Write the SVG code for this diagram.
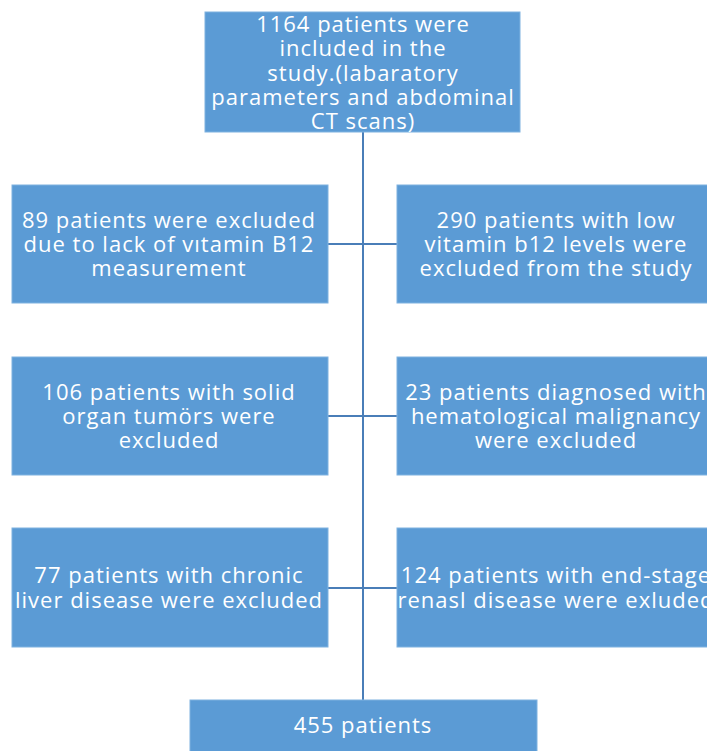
<svg xmlns="http://www.w3.org/2000/svg" width="707" height="751" viewBox="0 0 707 751">
<style>
.box{fill:#5B9BD5;stroke:#7FB2E0;stroke-width:1}
.t{font-family:"Open Sans","Liberation Sans",sans-serif;font-size:22px;letter-spacing:1px;fill:#ffffff;text-anchor:middle}
.c{stroke:#4A7EB8;stroke-width:2;fill:none}
</style>
<rect width="707" height="751" fill="#ffffff"/>
<g id="connectors">
<line class="c" x1="363" y1="132" x2="363" y2="700"/>
<line class="c" x1="328" y1="244" x2="397" y2="244"/>
<line class="c" x1="328" y1="416" x2="397" y2="416"/>
<line class="c" x1="328" y1="588" x2="397" y2="588"/>
</g>
<g id="n0">
<rect class="box" x="205" y="12" width="315" height="120"/>
<text class="t" x="363" y="32">1164 patients were</text>
<text class="t" x="363" y="56">included in the</text>
<text class="t" x="363" y="81">study.(labaratory</text>
<text class="t" x="363" y="105">parameters and abdominal</text>
<text class="t" x="363" y="129">CT scans)</text>
</g>
<g id="n1">
<rect class="box" x="12" y="185" width="316" height="118"/>
<text class="t" x="169" y="228">89 patients were excluded</text>
<text class="t" x="169" y="252">due to lack of vıtamin B12</text>
<text class="t" x="169" y="276">measurement</text>
</g>
<g id="n2">
<rect class="box" x="397" y="185" width="317" height="118"/>
<text class="t" x="556" y="228">290 patients with low</text>
<text class="t" x="556" y="252">vitamin b12 levels were</text>
<text class="t" x="556" y="276">excluded from the study</text>
</g>
<g id="n3">
<rect class="box" x="12" y="357" width="316" height="118"/>
<text class="t" x="169" y="400">106 patients with solid</text>
<text class="t" x="169" y="424">organ tumörs were</text>
<text class="t" x="169" y="448">excluded</text>
</g>
<g id="n4">
<rect class="box" x="397" y="357" width="317" height="118"/>
<text class="t" x="556" y="400">23 patients diagnosed with</text>
<text class="t" x="556" y="424">hematological malignancy</text>
<text class="t" x="556" y="448">were excluded</text>
</g>
<g id="n5">
<rect class="box" x="12" y="528" width="316" height="119"/>
<text class="t" x="169" y="583">77 patients with chronic</text>
<text class="t" x="169" y="608">liver disease were excluded</text>
</g>
<g id="n6">
<rect class="box" x="397" y="528" width="317" height="119"/>
<text class="t" x="556" y="583">124 patients with end-stage</text>
<text class="t" x="556" y="608">renasl disease were exluded</text>
</g>
<g id="n7">
<rect class="box" x="190" y="700" width="347" height="60"/>
<text class="t" x="363" y="733">455 patients</text>
</g>
</svg>
